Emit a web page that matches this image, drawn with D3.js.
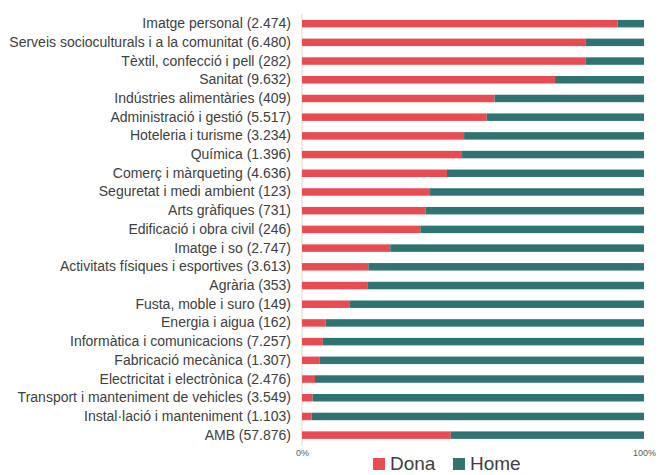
<!DOCTYPE html>
<html>
<head>
<meta charset="utf-8">
<script src="https://cdn.jsdelivr.net/npm/d3@7"></script>
<style>
html,body{margin:0;padding:0;background:#fff;}
svg{display:block;}
</style>
</head>
<body>
<svg id="chart" width="671" height="475"></svg>
<script>
const categories = [
  "Imatge personal (2.474)",
  "Serveis socioculturals i a la comunitat (6.480)",
  "Tèxtil, confecció i pell (282)",
  "Sanitat (9.632)",
  "Indústries alimentàries (409)",
  "Administració i gestió (5.517)",
  "Hoteleria i turisme (3.234)",
  "Química (1.396)",
  "Comerç i màrqueting (4.636)",
  "Seguretat i medi ambient (123)",
  "Arts gràfiques (731)",
  "Edificació i obra civil (246)",
  "Imatge i so (2.747)",
  "Activitats físiques i esportives (3.613)",
  "Agrària (353)",
  "Fusta, moble i suro (149)",
  "Energia i aigua (162)",
  "Informàtica i comunicacions (7.257)",
  "Fabricació mecànica (1.307)",
  "Electricitat i electrònica (2.476)",
  "Transport i manteniment de vehicles (3.549)",
  "Instal·lació i manteniment (1.103)",
  "AMB (57.876)"
];
const dona = [92.3, 83.0, 83.0, 74.0, 56.3, 54.0, 47.4, 46.8, 42.4, 37.4, 36.1, 34.6, 25.8, 19.4, 19.1, 14.0, 6.9, 6.1, 5.2, 3.8, 3.1, 2.8, 43.5];
const home = dona.map(d => 100 - d);
const seriesNames = ["Dona", "Home"];
const seriesColors = ["#e84b52", "#2f7472"];
const tickLabels = ["0%", "100%"];
const tickValues = [0, 100];

const svg = d3.select("#chart");
const x = d3.scaleLinear().domain([0, 100]).range([302, 644]);
const y = d3.scaleBand().domain(categories).range([14.3, 444.5]).paddingInner(0.6).paddingOuter(0.3);

const rows = categories.map((c, i) => ({cat: c, Dona: dona[i], Home: home[i]}));
const stack = d3.stack().keys(seriesNames)(rows);

// axis line
svg.append("line")
  .attr("x1", x(0)).attr("x2", x(0))
  .attr("y1", 14).attr("y2", 446)
  .attr("stroke", "#d9d9d9").attr("stroke-width", 1);

svg.append("g").selectAll("g").data(stack).join("g")
  .attr("fill", (d, i) => seriesColors[i])
  .selectAll("rect").data(d => d).join("rect")
  .attr("x", d => x(d[0]))
  .attr("width", d => x(d[1]) - x(d[0]))
  .attr("y", d => y(d.data.cat))
  .attr("height", y.bandwidth());

// category labels
const yAxis = d3.axisLeft(y).tickSize(0).tickPadding(0);
const gy = svg.append("g").attr("transform", "translate(291,0)").call(yAxis);
gy.select(".domain").remove();
gy.selectAll("text")
  .attr("font-family", "Liberation Sans, Arial, sans-serif")
  .attr("font-size", "14px")
  .attr("fill", "#404040");

// x tick labels
const xAxis = d3.axisBottom(x).tickValues(tickValues).tickFormat((d, i) => tickLabels[i]).tickSize(0).tickPadding(0);
const gx = svg.append("g").attr("transform", "translate(0,450)").call(xAxis);
gx.select(".domain").remove();
gx.selectAll("text")
  .attr("font-family", "Liberation Sans, Arial, sans-serif")
  .attr("font-size", "9px")
  .attr("fill", "#595959");

// legend
const legendX = [373, 453];
const lg = svg.append("g");
seriesNames.forEach((s, i) => {
  lg.append("rect").attr("x", legendX[i]).attr("y", 458).attr("width", 12).attr("height", 12).attr("fill", seriesColors[i]);
  lg.append("text").attr("x", legendX[i] + 17).attr("y", 470)
    .attr("font-family", "Liberation Sans, Arial, sans-serif")
    .attr("font-size", "19px").attr("fill", "#404040").text(s);
});
</script>
</body>
</html>
